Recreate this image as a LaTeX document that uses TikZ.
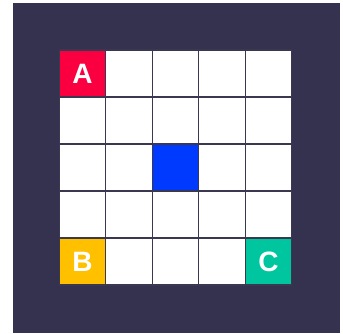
\documentclass[tikz,border=0pt]{standalone}
\usepackage{fontspec}
\setmainfont{Liberation Sans}
\usepackage{tikz}
\usetikzlibrary{positioning}
\usepackage{xcolor}
\definecolor{boardbg}{RGB}{52,50,79}
\definecolor{gridline}{RGB}{58,56,80}
\definecolor{startred}{RGB}{250,0,64}
\definecolor{goldyellow}{RGB}{255,192,0}
\definecolor{tealgreen}{RGB}{0,198,160}
\definecolor{wallblue}{RGB}{0,58,255}

\begin{document}
\begin{tikzpicture}[x=1pt, y=-1pt,
    cell/.style={draw=gridline, line width=1.2pt, fill=white, minimum width=46.5pt, minimum height=47pt, inner sep=0pt},
    mark cell/.style={cell, text=white, font=\fontsize{28}{28}\selectfont\bfseries}]
                        % Draw frame and background
                        \useasboundingbox (0,0) rectangle (343,333);
                        \fill[white] (0,0) rectangle (343,333);
                        \fill[boardbg] (13,3) rectangle (340,333);
                        % Draw the 5x5 grid of cells
                        \foreach \r in {0,...,4} {
                            \foreach \c in {0,...,4} {
                                \node[cell] (c\r\c) at (82.55+46.5*\c, 73.5+47*\r) {};
                            }
                        }
                        % Colour the special cells
                        \node[mark cell, fill=startred] (A) at (c00) {A};
                        \node[mark cell, fill=goldyellow] (B) at (c40) {B};
                        \node[mark cell, fill=tealgreen] (C) at (c44) {C};
                        \node[cell, fill=wallblue] (wall) at (c22) {};
                    \end{tikzpicture}
\end{document}
